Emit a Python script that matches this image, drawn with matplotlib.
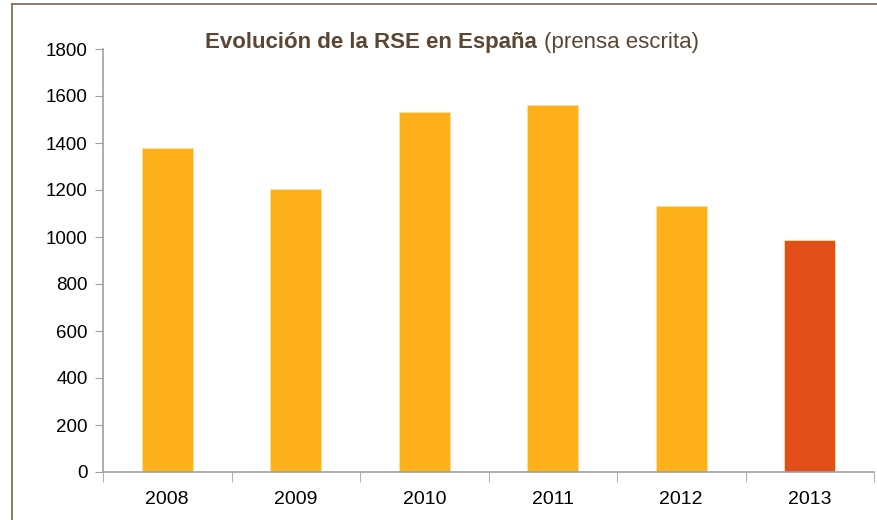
import matplotlib
matplotlib.use("Agg")
from matplotlib import pyplot as plt
from matplotlib.lines import Line2D

years = ["2008", "2009", "2010", "2011", "2012", "2013"]
values = [1380, 1205, 1532, 1560, 1133, 989]
colors = ["#FDB01A", "#FDB01A", "#FDB01A", "#FDB01A", "#FDB01A", "#E24E18"]
yticks = [0, 200, 400, 600, 800, 1000, 1200, 1400, 1600, 1800]

plt.rcParams['font.family'] = ['Liberation Sans', 'DejaVu Sans']

W, H = 877, 520
fig = plt.figure(figsize=(W / 100, H / 100), dpi=100)
ax = fig.add_axes([103 / W, 1 - 472 / H, (874 - 103) / W, (472 - 49) / H])

x = range(len(years))
ax.bar(x, values, width=0.4, color=colors, edgecolor="#FFE0A0", linewidth=0.6)

ax.set_xlim(-0.5, len(years) - 0.5)
ax.set_ylim(0, 1800)
ax.set_yticks(yticks)
ax.set_yticklabels([str(v) for v in yticks], fontsize=13.5)
ax.set_xticks(list(x))
ax.set_xticklabels(years, fontsize=14)
ax.tick_params(axis="x", length=0, pad=14)
ax.set_xticks([i + 0.5 for i in range(-1, len(years))], minor=True)
ax.tick_params(axis="x", which="minor", length=7, color="#A0A0A0", direction="out")
ax.tick_params(axis="y", length=6, color="#A0A0A0", direction="out", pad=5)

for side in ["top", "right"]:
    ax.spines[side].set_visible(False)
for side in ["left", "bottom"]:
    ax.spines[side].set_color("#A0A0A0")
    ax.spines[side].set_linewidth(1.2)

# title, bold part + normal part
t1 = fig.text(205 / W, 1 - 48 / H, "Evolución de la RSE en España", fontsize=16,
              fontweight="bold", color="#5A4632", va="baseline")
fig.canvas.draw()
bb = t1.get_window_extent()
fig.text(bb.x1 / W + 7 / W, 1 - 48 / H, "(prensa escrita)", fontsize=16,
         color="#5A4632", va="baseline")

# frame lines
fig.add_artist(Line2D([12 / W, 1], [1 - 4 / H, 1 - 4 / H], color="#7A6650", linewidth=1.2))
fig.add_artist(Line2D([12 / W, 12 / W], [0, 1 - 4 / H], color="#7A6650", linewidth=1.2))

fig.savefig("out.png", dpi=100)
